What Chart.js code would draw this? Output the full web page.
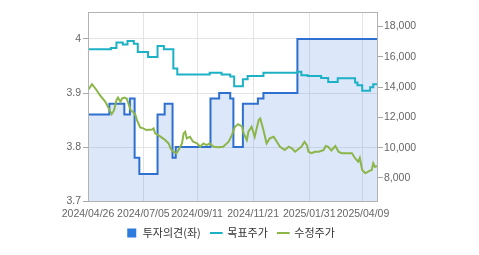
<!DOCTYPE html>
<html>
<head>
<meta charset="utf-8">
<script src="https://cdn.jsdelivr.net/npm/chart.js@4.4.1/dist/chart.umd.min.js"></script>
<style>
  html, body { margin: 0; padding: 0; background: #fff; }
</style>
</head>
<body>
<canvas id="chart" width="479" height="255"></canvas>
<script>
// x axis ticks
const tickDates = ['2024-04-26', '2024-07-05', '2024-09-11', '2024-11-21', '2025-01-31', '2025-04-09'];
const leftTicks = [3.7, 3.8, 3.9, 4.0];
const rightTicks = [8000, 10000, 12000, 14000, 16000, 18000];

// 투자의견 (left axis, step)
const opinionDates = ['2024-04-26', '2024-05-23', '2024-06-11', '2024-06-18', '2024-06-24', '2024-06-30',
  '2024-07-23', '2024-08-01', '2024-08-11', '2024-08-15', '2024-09-28', '2024-10-09', '2024-10-23',
  '2024-10-27', '2024-11-08', '2024-11-27', '2024-12-04', '2025-01-16', '2025-04-28'];
const opinionValues = [3.86, 3.88, 3.86, 3.89, 3.78, 3.75,
  3.86, 3.88, 3.78, 3.80, 3.89, 3.90, 3.89,
  3.80, 3.88, 3.89, 3.90, 4.00, 4.00];

// 목표주가 (right axis)
const targetDates = ['2024-04-26', '2024-05-25', '2024-06-01', '2024-06-09', '2024-06-15', '2024-06-23',
  '2024-06-28', '2024-07-11', '2024-07-23', '2024-07-31', '2024-08-12', '2024-08-17', '2024-09-27',
  '2024-10-12', '2024-10-23', '2024-10-28', '2024-11-08', '2024-11-14', '2024-12-04', '2025-01-16',
  '2025-01-21', '2025-01-29', '2025-02-15', '2025-02-24', '2025-03-08', '2025-03-30', '2025-04-02',
  '2025-04-08', '2025-04-18', '2025-04-22', '2025-04-28'];
const targetValues = [16490, 16570, 16930, 16800, 17030, 16860,
  16310, 15980, 16700, 16490, 15220, 14830, 14950,
  14830, 14700, 14050, 14515, 14730, 14940, 15000,
  14780, 14730, 14600, 14330, 14580, 14300, 14120,
  13760, 13990, 14190, 14190];

// 수정주가 (right axis)
const priceDates = ['2024-04-26', '2024-05-01', '2024-05-07', '2024-05-11', '2024-05-18', '2024-05-24',
  '2024-05-26', '2024-05-29', '2024-06-01', '2024-06-03', '2024-06-06', '2024-06-08', '2024-06-11',
  '2024-06-14', '2024-06-16', '2024-06-19', '2024-06-22', '2024-06-25', '2024-06-27', '2024-07-01',
  '2024-07-05', '2024-07-09', '2024-07-16', '2024-07-18', '2024-07-20', '2024-07-24', '2024-07-28',
  '2024-08-01', '2024-08-06', '2024-08-09', '2024-08-12', '2024-08-16', '2024-08-18', '2024-08-23',
  '2024-08-25', '2024-08-27', '2024-08-29', '2024-09-02', '2024-09-06', '2024-09-11', '2024-09-15',
  '2024-09-19', '2024-09-23', '2024-09-27', '2024-10-02', '2024-10-08', '2024-10-14', '2024-10-21',
  '2024-10-25', '2024-10-29', '2024-11-02', '2024-11-07', '2024-11-09', '2024-11-13', '2024-11-15',
  '2024-11-19', '2024-11-23', '2024-11-28', '2024-11-30', '2024-12-04', '2024-12-08', '2024-12-12',
  '2024-12-17', '2024-12-21', '2024-12-25', '2024-12-31', '2025-01-05', '2025-01-09', '2025-01-13',
  '2025-01-17', '2025-01-21', '2025-01-25', '2025-01-28', '2025-01-30', '2025-02-03', '2025-02-07',
  '2025-02-12', '2025-02-18', '2025-02-21', '2025-02-24', '2025-02-28', '2025-03-05', '2025-03-09',
  '2025-03-13', '2025-03-19', '2025-03-26', '2025-03-30', '2025-04-03', '2025-04-05', '2025-04-08',
  '2025-04-12', '2025-04-16', '2025-04-20', '2025-04-22', '2025-04-24', '2025-04-28'];
const priceValues = [13790, 14190, 13790, 13460, 13020, 12410,
  12210, 12470, 13130, 13310, 13020, 13240, 13310,
  13240, 12930, 12470, 12360, 12150, 11820, 11330,
  11270, 11160, 11200, 11270, 10940, 10830, 10680,
  10530, 10280, 9890, 9730, 9630, 9800, 10280,
  10940, 11050, 10610, 10720, 10390, 10280, 10060,
  10280, 10170, 10280, 10060, 10020, 10060, 10390,
  10830, 11380, 11550, 11380, 10940, 10500, 11050,
  11380, 10720, 11820, 11930, 11160, 10280, 10610,
  10720, 10390, 10060, 9840, 10060, 9950, 9730,
  9890, 10060, 10390, 10170, 9730, 9630, 9730,
  9730, 9840, 10110, 10060, 9810, 10110, 9730,
  9630, 9630, 9630, 9300, 9070, 9320, 8530,
  8310, 8440, 8530, 8970, 8740, 8790];

const START = Date.parse('2024-04-26');
const dayOf = s => Math.round((Date.parse(s) - START) / 86400000);
const toPoints = (dates, vals) => dates.map((d, i) => ({ x: dayOf(d), y: vals[i] }));
const tickLabel = v => {
  const d = tickDates.find(t => dayOf(t) === v);
  return d ? d.replace(/-/g, '/') : '';
};

const frame = {
  id: 'frame',
  afterDatasetsDraw(chart) {
    const { ctx, chartArea: a } = chart;
    ctx.save();
    ctx.strokeStyle = '#b3b3b3';
    ctx.lineWidth = 1;
    ctx.strokeRect(a.left + 0.5, a.top + 0.5, a.right - a.left - 1, a.bottom - a.top);
    ctx.restore();
  }
};

Chart.defaults.font.family = "'Liberation Sans Narrow', 'Liberation Sans', Arial, sans-serif";
Chart.defaults.font.size = 10.5;
Chart.defaults.color = '#666';

new Chart(document.getElementById('chart'), {
  type: 'line',
  data: {
    datasets: [
      {
        label: '투자의견(좌)',
        data: toPoints(opinionDates, opinionValues),
        yAxisID: 'y',
        stepped: 'before',
        borderColor: '#2f6fcf',
        borderWidth: 2,
        backgroundColor: 'rgba(60,120,220,0.18)',
        fill: 'start',
        pointRadius: 0,
        pointStyle: 'rect',
        order: 3
      },
      {
        label: '목표주가',
        data: toPoints(targetDates, targetValues),
        yAxisID: 'y2',
        stepped: 'before',
        borderColor: '#1db1c6',
        borderWidth: 2,
        fill: false,
        pointRadius: 0,
        pointStyle: 'line',
        order: 2
      },
      {
        label: '수정주가',
        data: toPoints(priceDates, priceValues),
        yAxisID: 'y2',
        borderColor: '#8cb64a',
        borderWidth: 2,
        fill: false,
        pointRadius: 0,
        pointStyle: 'line',
        order: 1
      }
    ]
  },
  options: {
    responsive: false,
    animation: false,
    layout: { padding: { top: 12, right: 18, bottom: 6.5, left: 0 } },
    scales: {
      x: {
        type: 'linear',
        min: 0,
        max: 367,
        afterBuildTicks: s => { s.ticks = tickDates.map(d => ({ value: dayOf(d) })); },
        afterFit: s => { s.height = 16.5; },
        ticks: { callback: v => tickLabel(v), maxRotation: 0, autoSkip: false, padding: 7 },
        grid: { color: '#e4e4e4', drawTicks: false },
        border: { display: false }
      },
      y: {
        position: 'left',
        min: 3.7,
        max: 4.05,
        afterBuildTicks: s => { s.ticks = leftTicks.map(v => ({ value: v })); },
        afterFit: s => { s.width = 88; },
        ticks: { callback: v => String(Number(v.toFixed(1))), padding: 2 },
        grid: { color: '#e4e4e4', tickColor: '#a8a8a8', tickLength: 5 },
        border: { display: false }
      },
      y2: {
        position: 'right',
        min: 6480,
        max: 18950,
        afterBuildTicks: s => { s.ticks = rightTicks.map(v => ({ value: v })); },
        afterFit: s => { s.width = 83; },
        ticks: { callback: v => v.toLocaleString('en-US'), padding: 1 },
        grid: { drawOnChartArea: false, tickColor: '#a8a8a8', tickLength: 5 },
        border: { display: false }
      }
    },
    plugins: {
      tooltip: { enabled: false },
      legend: {
        position: 'bottom',
        labels: {
          usePointStyle: true,
          boxWidth: 11,
          boxHeight: 9,
          padding: 10,
          color: '#333',
          font: { family: "'Noto Sans CJK KR', sans-serif", size: 11 },
          sort: (a, b) => a.datasetIndex - b.datasetIndex,
          generateLabels(chart) {
            const items = Chart.defaults.plugins.legend.labels.generateLabels(chart);
            items.forEach(it => {
              if (it.datasetIndex === 0) {
                it.fillStyle = '#2e7be0';
                it.strokeStyle = '#2e7be0';
                it.lineWidth = 0;
              } else {
                it.lineWidth = 2;
              }
            });
            return items;
          }
        }
      }
    }
  },
  plugins: [frame]
});
</script>
</body>
</html>
